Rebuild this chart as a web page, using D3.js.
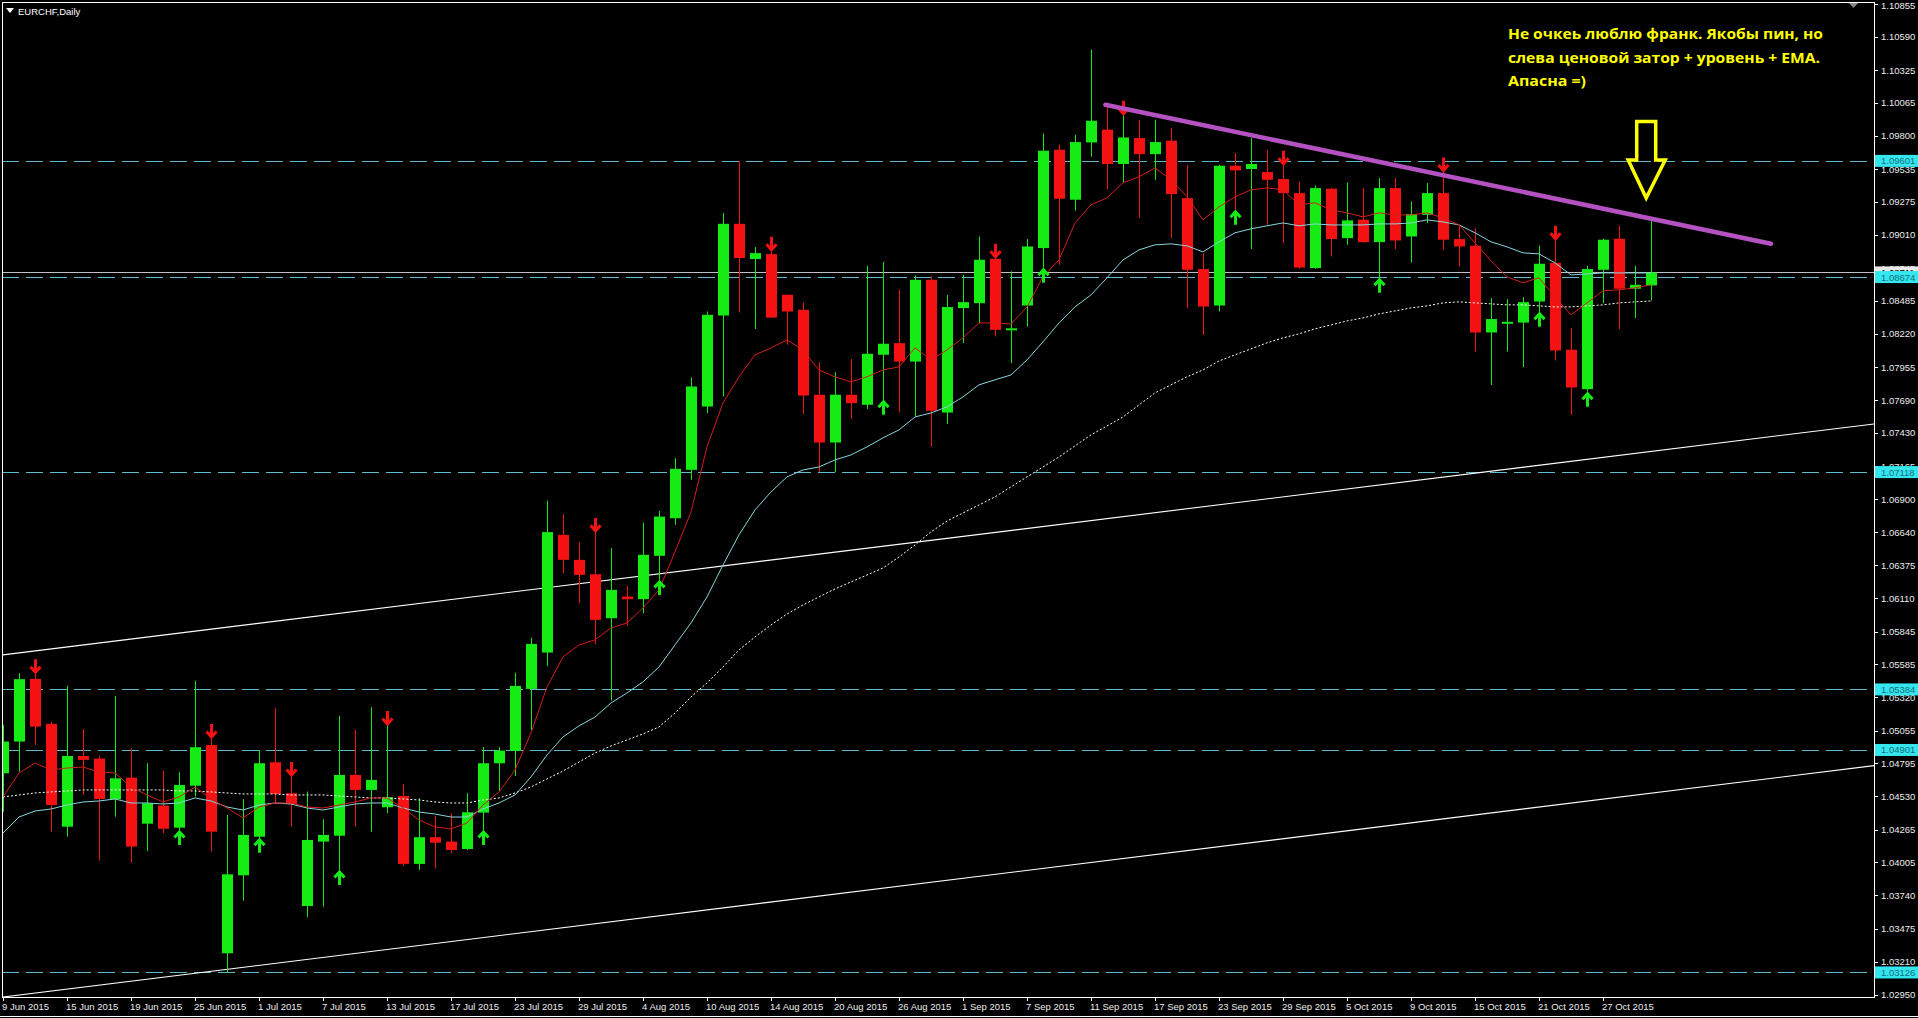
<!DOCTYPE html>
<html>
<head>
    <meta charset="utf-8">
    <title>EURCHF,Daily</title>
    <style>
        body{margin:0;background:#000;overflow:hidden;}
    </style>
</head>
<body>
<script src="https://cdn.jsdelivr.net/npm/d3@7"></script>
<script>
// daily OHLC, 9 Jun 2015 .. 30 Oct 2015
var openP=[1.04715,1.04968,1.05468,1.05109,1.04289,1.04853,1.04832,1.04508,1.0468,1.04313,
    1.04457,1.04281,1.04616,1.04941,1.03279,1.03901,1.04209,1.04803,1.04556,1.03656,
    1.0417,1.04217,1.04702,1.04582,1.04444,1.04534,1.03992,1.04205,1.0417,1.04111,
    1.04401,1.04795,1.04893,1.05388,1.05678,1.06617,1.06418,1.06303,1.05952,1.06125,
    1.06104,1.0645,1.0675,1.07136,1.07641,1.08367,1.09099,1.08818,1.08857,1.08533,
    1.08413,1.07735,1.07354,1.07735,1.07655,1.08054,1.08147,1.08,1.08652,1.07593,
    1.08427,1.08466,1.0882,1.08257,1.08447,1.08905,1.0969,1.09291,1.09748,1.0985,
    1.09576,1.09783,1.09655,1.09762,1.09304,1.08738,1.08447,1.09562,1.09536,1.09512,
    1.09456,1.09344,1.08746,1.09379,1.08985,1.09131,1.08953,1.09384,1.08998,1.09171,
    1.09344,1.08977,1.08924,1.08232,1.08313,1.08311,1.08479,1.08786,1.08094,1.0778,
    1.08732,1.0898,1.08581,1.08607];
var highP=[1.05101,1.05513,1.05513,1.05125,1.05412,1.05067,1.04853,1.05332,1.04915,1.04795,
    1.04734,1.04723,1.05452,1.04997,1.04383,1.04508,1.04901,1.05234,1.04694,1.04569,
    1.04348,1.05173,1.05061,1.05242,1.05101,1.04628,1.04516,1.04375,1.04396,1.04556,
    1.04925,1.04923,1.05516,1.05795,1.06891,1.06782,1.06559,1.06641,1.06511,1.0621,
    1.06715,1.06809,1.07229,1.07873,1.08399,1.09185,1.09597,1.08913,1.08884,1.08533,
    1.08471,1.07996,1.07916,1.0802,1.08764,1.08794,1.08573,1.08687,1.08679,1.08533,
    1.08692,1.08998,1.08828,1.08719,1.08977,1.09818,1.0973,1.0981,1.10488,1.10065,
    1.09969,1.09929,1.09929,1.09863,1.0957,1.08865,1.0957,1.09664,1.09783,1.0969,
    1.0957,1.09437,1.09405,1.09385,1.09429,1.09384,1.09464,1.09464,1.09277,1.09424,
    1.09517,1.09078,1.09065,1.08506,1.08498,1.08514,1.08924,1.08972,1.08267,1.08764,
    1.0898,1.09083,1.08764,1.09123];
var lowP=[1.04409,1.04728,1.04941,1.04249,1.04209,1.04542,1.04018,1.04369,1.04002,1.04095,
    1.04237,1.04263,1.04529,1.0409,1.03127,1.03699,1.042,1.04476,1.04289,1.03566,
    1.03651,1.03944,1.04289,1.04249,1.04396,1.03976,1.03944,1.03957,1.04077,1.04103,
    1.04263,1.04569,1.04694,1.05061,1.05572,1.06312,1.06072,1.05745,1.05295,1.05893,
    1.05992,1.06258,1.06697,1.07056,1.07589,1.07721,1.08391,1.08259,1.08349,1.08134,
    1.07581,1.07118,1.07118,1.07541,1.0762,1.07695,1.07593,1.07561,1.07322,1.07503,
    1.08147,1.08307,1.082,1.07987,1.0828,1.08748,1.08772,1.09205,1.09636,1.09376,
    1.09424,1.09145,1.0945,1.08985,1.08427,1.08213,1.08399,1.09211,1.08897,1.09091,
    1.08945,1.0874,1.0874,1.08838,1.08932,1.0895,1.08668,1.08897,1.0879,1.09105,
    1.08892,1.08759,1.0808,1.07812,1.0808,1.07956,1.08397,1.08008,1.07575,1.07759,
    1.08466,1.08259,1.08347,1.08487];
var closeP=[1.04968,1.05466,1.05087,1.04462,1.04853,1.04822,1.0451,1.04675,1.0413,1.04476,
    1.04273,1.04622,1.04923,1.04249,1.03909,1.04223,1.04795,1.0455,1.0447,1.04183,
    1.04223,1.04702,1.04582,1.04662,1.04524,1.03992,1.04205,1.04161,1.04103,1.04404,
    1.04795,1.04896,1.05412,1.05747,1.06639,1.06418,1.06298,1.05939,1.06178,1.06104,
    1.06458,1.06763,1.07144,1.07801,1.08373,1.09099,1.08826,1.08865,1.08351,1.08399,
    1.07729,1.07354,1.07735,1.07668,1.08062,1.08142,1.08,1.08652,1.07607,1.08435,
    1.08474,1.08812,1.08253,1.08265,1.08918,1.09682,1.09299,1.09751,1.09921,1.09576,
    1.09788,1.09655,1.09751,1.09336,1.08732,1.08439,1.09562,1.09525,1.09576,1.0945,
    1.09344,1.0875,1.09384,1.08977,1.09126,1.08953,1.09384,1.08966,1.09177,1.09344,
    1.08972,1.08918,1.08232,1.08339,1.08317,1.08474,1.0878,1.08088,1.07793,1.08738,
    1.08972,1.08581,1.08612,1.08711];

// moving averages (red, cyan, white dotted)
var maFast=[1.04526,1.04717,1.04797,1.04741,1.04757,1.04765,1.04725,1.04717,1.04606,1.04542,
    1.04486,1.04526,1.04606,1.0451,1.04438,1.04358,1.04446,1.04478,1.04478,1.04446,
    1.04438,1.04462,1.04486,1.04518,1.04518,1.04438,1.04342,1.04287,1.04271,1.04318,
    1.04462,1.04566,1.04741,1.05037,1.05404,1.05643,1.05739,1.05779,1.05875,1.05914,
    1.06034,1.06178,1.06481,1.068,1.07319,1.0767,1.07878,1.08053,1.08109,1.08173,
    1.08093,1.07933,1.07878,1.07838,1.07878,1.07933,1.07957,1.08109,1.08013,1.08093,
    1.08189,1.08308,1.08308,1.083,1.08436,1.08676,1.08811,1.09106,1.0925,1.09306,
    1.09426,1.09474,1.09545,1.0945,1.09314,1.0913,1.09234,1.09314,1.0937,1.09386,
    1.0937,1.0925,1.09266,1.0921,1.09186,1.09154,1.09186,1.0917,1.0917,1.09186,
    1.09146,1.0909,1.08947,1.08803,1.08676,1.08628,1.08668,1.08516,1.08372,1.08468,
    1.08564,1.08572,1.08588,1.08612];
var maMid=[1.04239,1.04366,1.04414,1.0443,1.04462,1.04486,1.04494,1.0451,1.04478,1.04478,
    1.0447,1.04478,1.04518,1.04494,1.04446,1.04422,1.04462,1.04478,1.0447,1.04438,
    1.04422,1.04446,1.0447,1.04478,1.04478,1.04438,1.04406,1.0439,1.04366,1.04366,
    1.0443,1.04478,1.04542,1.04686,1.04861,1.05005,1.05093,1.05164,1.05276,1.05356,
    1.05444,1.05563,1.05739,1.05914,1.06122,1.06377,1.06617,1.06816,1.0696,1.0708,
    1.07135,1.07159,1.07215,1.07255,1.07319,1.07391,1.07455,1.07558,1.0759,1.07638,
    1.07718,1.07814,1.07854,1.07893,1.08013,1.08157,1.08308,1.08436,1.08532,1.08668,
    1.08811,1.08891,1.08931,1.08939,1.08923,1.08875,1.08955,1.09027,1.09059,1.09083,
    1.09106,1.09083,1.09098,1.0909,1.0909,1.0909,1.09098,1.09098,1.09106,1.0913,
    1.09114,1.0909,1.09027,1.08955,1.08915,1.08867,1.08859,1.08787,1.08691,1.08699,
    1.08707,1.08707,1.08707,1.08707];
var maSlow=[1.04526,1.04542,1.04558,1.04566,1.04574,1.04582,1.04582,1.04582,1.04582,1.04582,
    1.04582,1.04574,1.04574,1.04566,1.04558,1.0455,1.0455,1.0455,1.04542,1.04542,
    1.04542,1.04534,1.04526,1.04518,1.04518,1.0451,1.04502,1.04486,1.04478,1.04478,
    1.04502,1.04518,1.04558,1.04606,1.0467,1.04733,1.04805,1.04877,1.04933,1.04981,
    1.05029,1.05085,1.05196,1.05324,1.05436,1.05563,1.05699,1.05803,1.05898,1.05986,
    1.06058,1.06122,1.06186,1.06242,1.06297,1.06353,1.06441,1.06537,1.06641,1.06728,
    1.06792,1.06856,1.0692,1.07,1.0708,1.07159,1.07239,1.07327,1.07415,1.07486,
    1.07558,1.07654,1.0775,1.07814,1.07878,1.07933,1.08005,1.08053,1.08101,1.08149,
    1.08189,1.08221,1.08261,1.08292,1.08324,1.08348,1.0838,1.08404,1.08428,1.08444,
    1.08468,1.08476,1.08468,1.0846,1.08452,1.08452,1.08444,1.08436,1.08436,1.08444,
    1.08452,1.08468,1.08476,1.08484];

// bars carrying a signal arrow
var downArrowBars=[2,13,18,24,37,48,62,70,80,90,97];
var upArrowBars=[11,16,21,30,41,55,65,77,86,96,99];

var priceTicks=[1.10855,1.10590,1.10325,1.10065,1.09800,1.09535,1.09275,1.09010,1.08745,1.08485,
    1.08220,1.07955,1.07690,1.07430,1.07165,1.06900,1.06640,1.06375,1.06110,1.05845,
    1.05585,1.05320,1.05055,1.04795,1.04530,1.04265,1.04005,1.03740,1.03475,1.03210,1.02950];
// one date label every 4 bars
var dateLabels=["9 Jun 2015","15 Jun 2015","19 Jun 2015","25 Jun 2015","1 Jul 2015","7 Jul 2015",
    "13 Jul 2015","17 Jul 2015","23 Jul 2015","29 Jul 2015","4 Aug 2015","10 Aug 2015","14 Aug 2015",
    "20 Aug 2015","26 Aug 2015","1 Sep 2015","7 Sep 2015","11 Sep 2015","17 Sep 2015","23 Sep 2015",
    "29 Sep 2015","5 Oct 2015","9 Oct 2015","15 Oct 2015","21 Oct 2015","27 Oct 2015"];
var labelStep=4;

var levels=[1.09601,1.08674,1.07118,1.05384,1.04901,1.03126];
var bidPrice=1.08711;
// drawn objects: [bar index, price]
var channelTop=[[0,1.05660],[117,1.07503]];
var channelBottom=[[0,1.02930],[117,1.04777]];
var resistance=[[68.9,1.10049],[110.5,1.08940]];
var bigArrowTip=[102.7,1.09304];
var note=["Не очкеь люблю франк. Якобы пин, но","слева ценовой затор + уровень + EMA.","Апасна =)"];
var noteWidths=[315,312,78];

var W=1918, H=1018;
var plotL=2, plotR=1874, plotT=2, plotB=997;

var svg=d3.select("body").append("svg")
    .attr("width",W).attr("height",H)
    .style("background","#000")
    .style("display","block");

var x=d3.scaleLinear().domain([0,103]).range([3,1651]);
var y=d3.scaleLinear().domain([1.0295,1.10855]).range([994.5,3.7]);

svg.append("defs").append("clipPath").attr("id","plot")
    .append("rect").attr("x",plotL).attr("y",plotT)
    .attr("width",plotR-plotL).attr("height",plotB-plotT);
var g=svg.append("g").attr("clip-path","url(#plot)");

// horizontal levels
g.selectAll(".level").data(levels).enter().append("line")
    .attr("x1",plotL).attr("x2",plotR)
    .attr("y1",function(d){return Math.round(y(d))+0.5;})
    .attr("y2",function(d){return Math.round(y(d))+0.5;})
    .attr("stroke","#5dbccb").attr("stroke-width",1)
    .attr("stroke-dasharray","17,7");

// bid line
g.append("line")
    .attr("x1",plotL).attr("x2",plotR)
    .attr("y1",Math.round(y(bidPrice))+0.5).attr("y2",Math.round(y(bidPrice))+0.5)
    .attr("stroke","#c0c0c0").attr("stroke-width",1);

// channel
var anchorLine=d3.line().x(function(d){return x(d[0]);}).y(function(d){return y(d[1]);});
[channelTop,channelBottom].forEach(function(c){
    g.append("path").attr("d",anchorLine(c))
        .attr("stroke","#ffffff").attr("stroke-width",1.1).attr("fill","none");
});

// candles
var bars=openP.map(function(o,i){
    return {i:i,o:o,h:highP[i],l:lowP[i],c:closeP[i]};
});
var green="#14ec14", red="#f61212";
function col(d){return d.c>=d.o?green:red;}

g.selectAll(".wick").data(bars).enter().append("line")
    .attr("x1",function(d){return x(d.i)+0.5;})
    .attr("x2",function(d){return x(d.i)+0.5;})
    .attr("y1",function(d){return y(d.h);})
    .attr("y2",function(d){return y(d.l);})
    .attr("stroke",col).attr("stroke-width",1);

g.selectAll(".body").data(bars).enter().append("rect")
    .attr("x",function(d){return x(d.i)-5;})
    .attr("width",11)
    .attr("y",function(d){return y(Math.max(d.o,d.c));})
    .attr("height",function(d){return Math.max(2,Math.abs(y(d.o)-y(d.c)));})
    .attr("fill",col);

// moving averages
var maLine=d3.line().x(function(d,i){return x(i);}).y(function(d){return y(d);});
g.append("path").attr("d",maLine(maSlow))
    .attr("fill","none").attr("stroke","#ffffff").attr("stroke-width",1)
    .attr("stroke-dasharray","2,2");
g.append("path").attr("d",maLine(maMid))
    .attr("fill","none").attr("stroke","#86d6de").attr("stroke-width",1);
g.append("path").attr("d",maLine(maFast))
    .attr("fill","none").attr("stroke","#d41e1e").attr("stroke-width",1);

// signal arrows
function arrowPath(cx,tip,dir){
    var tail=tip-dir*13;
    return "M"+cx+","+tail+"L"+cx+","+tip+
        "M"+(cx-5)+","+(tip-dir*5.5)+"L"+cx+","+tip+"L"+(cx+5)+","+(tip-dir*5.5);
}
g.selectAll(".dn").data(downArrowBars).enter().append("path")
    .attr("d",function(i){return arrowPath(x(i)+0.5,y(highP[i])-1,1);})
    .attr("stroke",red).attr("stroke-width",3).attr("fill","none");
g.selectAll(".up").data(upArrowBars).enter().append("path")
    .attr("d",function(i){return arrowPath(x(i)+0.5,y(lowP[i])+2,-1);})
    .attr("stroke",green).attr("stroke-width",3).attr("fill","none");

// resistance line
g.append("path").attr("d",anchorLine(resistance))
    .attr("stroke","#b452c2").attr("stroke-width",4.5)
    .attr("stroke-linecap","round").attr("fill","none");

// big hollow yellow arrow
var tx=x(bigArrowTip[0]), ty=y(bigArrowTip[1]);
var arrowPts=[[tx-9.5,ty-76.5],[tx+9.5,ty-76.5],[tx+9.5,ty-38],[tx+19,ty-38],
    [tx,ty],[tx-18,ty-38],[tx-9.5,ty-38]];
svg.append("path").attr("d",d3.line()(arrowPts)+"Z")
    .attr("fill","none").attr("stroke","#ffff00").attr("stroke-width",3.5)
    .attr("stroke-linejoin","miter");

// note text
svg.selectAll(".note").data(note).enter().append("text")
    .attr("x",1508)
    .attr("y",function(d,i){return 39+i*23.5;})
    .attr("textLength",function(d,i){return noteWidths[i];})
    .attr("lengthAdjust","spacingAndGlyphs")
    .attr("font-family","'Open Sans', 'Noto Sans', sans-serif")
    .attr("font-weight","bold")
    .attr("font-size",15)
    .attr("fill","#ffff00")
    .text(function(d){return d;});

// frame
svg.append("rect").attr("x",plotL+0.5).attr("y",plotT+0.5)
    .attr("width",plotR-plotL).attr("height",plotB-plotT)
    .attr("fill","none").attr("stroke","#ffffff").attr("stroke-width",1);
svg.append("line").attr("x1",0).attr("x2",W).attr("y1",1016.5).attr("y2",1016.5)
    .attr("stroke","#ffffff").attr("stroke-width",1);

// price axis
var font="'Liberation Sans', Arial, sans-serif";
svg.selectAll(".ptick").data(priceTicks).enter().append("line")
    .attr("x1",plotR).attr("x2",plotR+4)
    .attr("y1",function(d){return Math.round(y(d))+0.5;})
    .attr("y2",function(d){return Math.round(y(d))+0.5;})
    .attr("stroke","#ffffff");
svg.selectAll(".plabel").data(priceTicks).enter().append("text")
    .attr("x",plotR+7)
    .attr("y",function(d){return Math.max(9,y(d)+3.5);})
    .attr("font-family",font).attr("font-size",9.5)
    .attr("fill","#ececec")
    .text(function(d){return d.toFixed(5);});

// bid label then level labels on top
svg.append("rect").attr("x",plotR+1).attr("y",y(bidPrice)-6)
    .attr("width",W-plotR-1).attr("height",12).attr("fill","#e8e8e8");
svg.append("text").attr("x",plotR+7).attr("y",y(bidPrice)+3.5)
    .attr("font-family",font).attr("font-size",9.5).attr("fill","#000")
    .text(bidPrice.toFixed(5));
svg.selectAll(".lbox").data(levels).enter().append("rect")
    .attr("x",plotR+1).attr("y",function(d){return y(d)-6;})
    .attr("width",W-plotR-1).attr("height",12)
    .attr("fill","#34e6ee");
svg.selectAll(".ltext").data(levels).enter().append("text")
    .attr("x",plotR+7).attr("y",function(d){return y(d)+3.5;})
    .attr("font-family",font).attr("font-size",9.5)
    .attr("fill","#136f7c")
    .text(function(d){return d.toFixed(5);});

// time axis
svg.selectAll(".dtick").data(dateLabels).enter().append("line")
    .attr("x1",function(d,i){return Math.round(x(i*labelStep))+0.5;})
    .attr("x2",function(d,i){return Math.round(x(i*labelStep))+0.5;})
    .attr("y1",plotB).attr("y2",plotB+4)
    .attr("stroke","#ffffff");
svg.selectAll(".dlabel").data(dateLabels).enter().append("text")
    .attr("x",function(d,i){return x(i*labelStep)-1;})
    .attr("y",1010)
    .attr("font-family",font).attr("font-size",9.5)
    .attr("fill","#ececec")
    .text(function(d){return d;});

// title and shift marker
svg.append("path").attr("d","M6,8L14,8L10,13Z").attr("fill","#ffffff");
svg.append("text").attr("x",18).attr("y",15)
    .attr("font-family",font).attr("font-size",9.5)
    .attr("fill","#ffffff").text("EURCHF,Daily");
svg.append("path").attr("d","M1849,3L1858,3L1853.5,8Z").attr("fill","#8a8a8a");
</script>
</body>
</html>
